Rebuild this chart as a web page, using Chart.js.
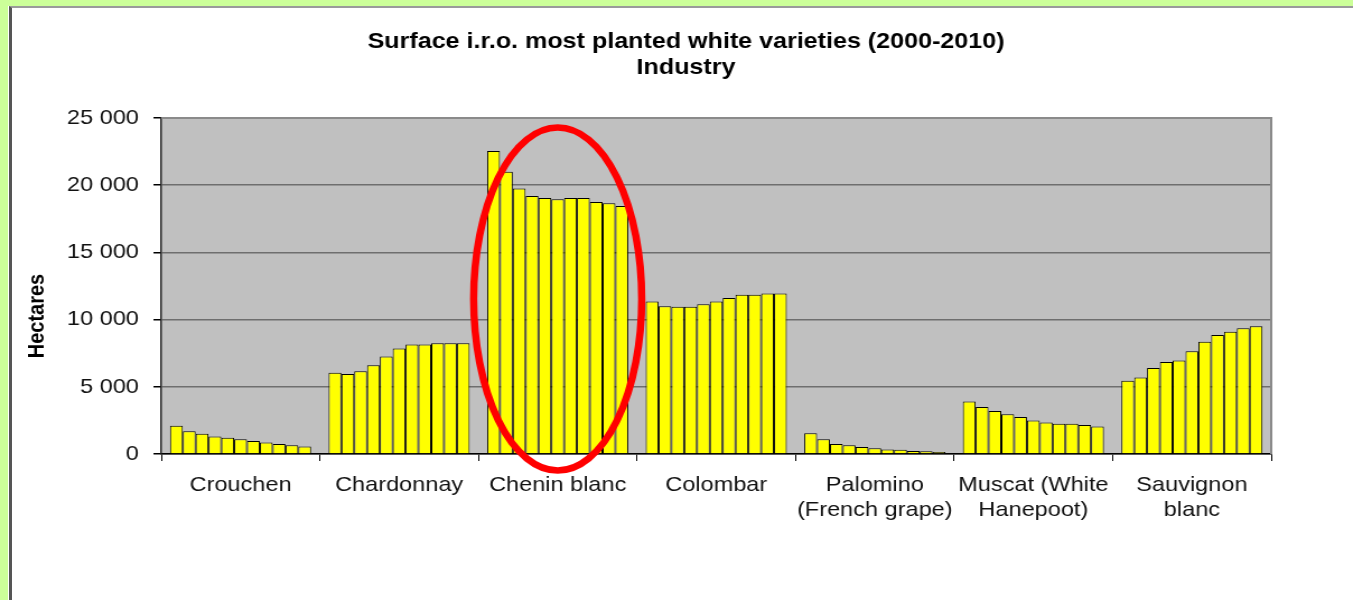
<!DOCTYPE html>
<html>
<head>
<meta charset="utf-8">
<title>Surface i.r.o. most planted white varieties</title>
<script src="https://cdn.jsdelivr.net/npm/chart.js@4.4.1/dist/chart.umd.min.js"></script>
<style>
  html, body { margin: 0; padding: 0; width: 1353px; height: 600px; overflow: hidden; background: #ccff99; }
  #panel { position: absolute; left: 9px; top: 6px; width: 1400px; height: 700px; background: #fff;
           border-top: 2px solid #9a9a9a; border-left: 3px solid #555; box-shadow: -1px 0 0 #fff; }
  /* the source picture is stretched sideways a little, so the canvas is too */
  #chart { position: absolute; left: 0; top: 0; transform: scaleX(1.12); transform-origin: 0 0; }
</style>
</head>
<body>
<div id="panel"></div>
<canvas id="chart" width="1225" height="600"></canvas>
<script>
  const varieties = ['Crouchen', 'Chardonnay', 'Chenin blanc', 'Colombar',
    ['Palomino', '(French grape)'], ['Muscat (White', 'Hanepoot)'], ['Sauvignon', 'blanc']];
  const years = ['2000', '2001', '2002', '2003', '2004', '2005', '2006', '2007', '2008', '2009', '2010'];

  // hectares per year, 2000 -> 2010
  const crouchen   = [2100, 1700, 1500, 1300, 1200, 1100, 960, 850, 750, 650, 550];
  const chardonnay = [6050, 5950, 6150, 6600, 7250, 7850, 8150, 8150, 8250, 8250, 8250];
  const chenin     = [22550, 21000, 19750, 19200, 19050, 18950, 19050, 19050, 18750, 18650, 18450];
  const colombar   = [11350, 11000, 10950, 10950, 11150, 11350, 11600, 11850, 11850, 11950, 11950];
  const palomino   = [1550, 1100, 750, 650, 520, 420, 330, 320, 230, 200, 140];
  const muscat     = [3900, 3500, 3200, 2950, 2750, 2500, 2350, 2250, 2250, 2150, 2050];
  const sauvignon  = [5450, 5700, 6400, 6850, 6950, 7650, 8350, 8850, 9100, 9350, 9500];

  const yTicks = [0, 5000, 10000, 15000, 20000, 25000];
  const yTitle = 'Hectares';

  const series = [crouchen, chardonnay, chenin, colombar, palomino, muscat, sauvignon];
  const FONT = "'Liberation Sans', Arial, sans-serif";

  // one dataset per year, so each variety gets a run of 11 bars
  const datasets = years.map((yr, i) => ({
    label: yr,
    data: series.map(s => s[i]),
    backgroundColor: '#ffff00',
    borderColor: '#000',
    borderWidth: 1,
    barPercentage: 1,
    categoryPercentage: 0.89
  }));

  function spaced(v) {
    return String(v).replace(/\B(?=(\d{3})+(?!\d))/g, ' ');
  }

  // grey plot background, plot frame, axis title (sits a bit low, like the source) and red ring
  const plotDeco = {
    id: 'plotDeco',
    beforeDraw(chart) {
      const { ctx, chartArea: a } = chart;
      ctx.save();
      ctx.fillStyle = '#c0c0c0';
      ctx.fillRect(a.left, a.top, a.right - a.left, a.bottom - a.top);
      ctx.restore();
    },
    afterDatasetsDraw(chart) {
      const { ctx, chartArea: a } = chart;
      ctx.save();
      ctx.strokeStyle = '#8a8a8a';
      ctx.lineWidth = 2;
      ctx.beginPath();
      ctx.moveTo(a.left, a.top);
      ctx.lineTo(a.right, a.top);
      ctx.lineTo(a.right, a.bottom);
      ctx.stroke();

      ctx.translate(33, (a.top + a.bottom) / 2 + 30);
      ctx.rotate(-Math.PI / 2);
      ctx.fillStyle = '#000';
      ctx.font = 'bold 20px ' + FONT;
      ctx.textAlign = 'center';
      ctx.textBaseline = 'middle';
      ctx.fillText(yTitle, 0, 0);
      ctx.restore();
    },
    afterDraw(chart) {
      const { ctx } = chart;
      const x = chart.scales.x, y = chart.scales.y;
      const cx = x.getPixelForValue(2);
      const rx = (x.getPixelForValue(1) - x.getPixelForValue(0)) * 0.53;
      const cy = y.getPixelForValue(11530);
      const ry = y.getPixelForValue(0) - y.getPixelForValue(12760);
      ctx.save();
      ctx.strokeStyle = '#ff0000';
      ctx.lineWidth = 6.5;
      ctx.beginPath();
      ctx.ellipse(cx, cy, rx, ry, 0, 0, Math.PI * 2);
      ctx.stroke();
      ctx.restore();
    }
  };

  new Chart(document.getElementById('chart'), {
    type: 'bar',
    data: { labels: varieties, datasets: datasets },
    plugins: [plotDeco],
    options: {
      responsive: false,
      animation: false,
      layout: { padding: 0 },
      plugins: {
        legend: { display: false },
        tooltip: { enabled: false },
        title: {
          display: true,
          text: ['Surface i.r.o. most planted white varieties (2000-2010)', 'Industry'],
          color: '#000',
          font: { family: FONT, size: 22.4, weight: 'bold', lineHeight: 1.15 },
          padding: { top: 29, bottom: 37.5 }
        }
      },
      scales: {
        x: {
          grid: { offset: true, drawOnChartArea: false, drawTicks: true, tickLength: 7, color: '#000', lineWidth: 1 },
          border: { display: true, color: '#000', width: 1.5 },
          ticks: { color: '#111', font: { family: FONT, size: 21, lineHeight: 1.19 }, padding: 12, maxRotation: 0, autoSkip: false },
          afterFit(s) { s.height = 146; }
        },
        y: {
          min: 0,
          max: 25000,
          afterBuildTicks(s) { s.ticks = yTicks.map(v => ({ value: v })); },
          ticks: { color: '#111', font: { family: FONT, size: 21 }, padding: 13, callback: v => spaced(v) },
          grid: {
            color: c => (c.tick && c.tick.value === 25000 ? '#a0a0a0' : '#6e6e6e'),
            tickColor: '#000',
            lineWidth: 1.5,
            tickLength: 7
          },
          border: { display: true, color: '#222', width: 1.5 },
          title: { display: false },
          afterFit(s) { s.width = 144; }
        },
        // empty right-hand strip so the title stays centred on the whole picture
        side: {
          position: 'right',
          display: true,
          min: 0,
          max: 1,
          grid: { display: false, drawTicks: false },
          border: { display: false },
          ticks: { display: false },
          afterFit(s) { s.width = 90; }
        }
      }
    }
  });
</script>
</body>
</html>
